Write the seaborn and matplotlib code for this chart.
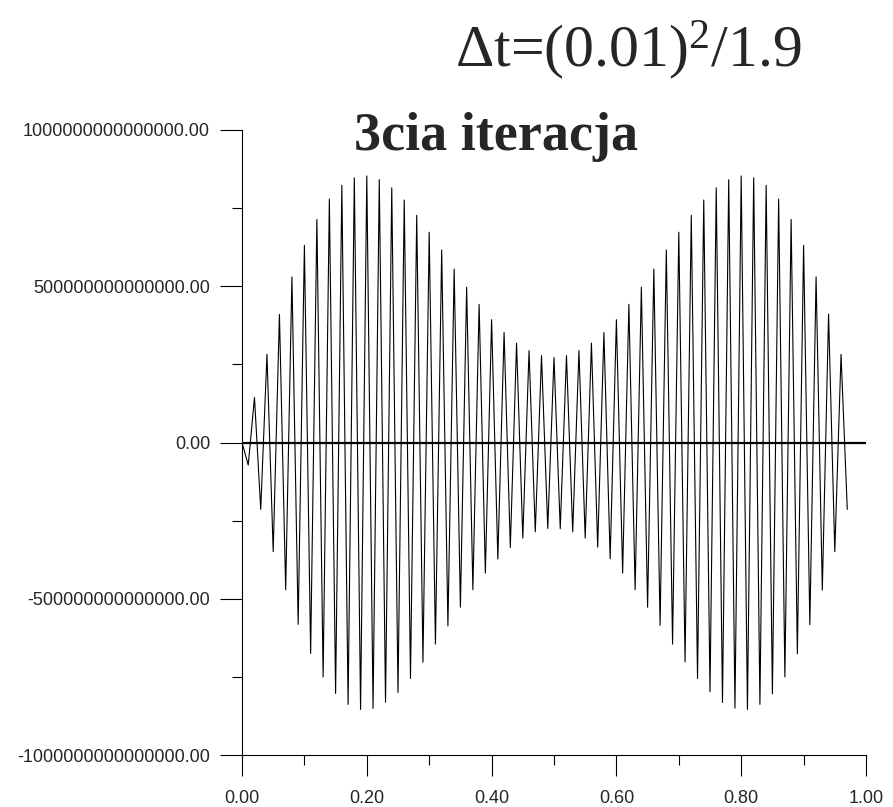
import numpy as np
import pandas as pd
import matplotlib
matplotlib.use("Agg")
import matplotlib.pyplot as plt
from matplotlib.ticker import FixedLocator, FuncFormatter
import seaborn as sns

# ---- data (values in units of 1e14) ----
x_values = np.round(np.arange(0, 0.98, 0.01), 2)
u_values_e14 = [
    0.00, -0.72, 1.44, -2.14, 2.82, -3.49, 4.10, -4.71, 5.30, -5.82,
    6.31, -6.75, 7.14, -7.50, 7.79, -8.03, 8.23, -8.38, 8.47, -8.54,
    8.53, -8.51, 8.41, -8.31, 8.15, -8.00, 7.76, -7.55, 7.27, -7.03,
    6.73, -6.45, 6.16, -5.87, 5.55, -5.27, 4.97, -4.71, 4.42, -4.18,
    3.93, -3.73, 3.52, -3.36, 3.18, -3.06, 2.94, -2.86, 2.78, -2.75,
    2.72, -2.76, 2.78, -2.86, 2.94, -3.06, 3.18, -3.35, 3.52, -3.72,
    3.93, -4.18, 4.42, -4.71, 4.97, -5.27, 5.55, -5.85, 6.16, -6.45,
    6.73, -7.02, 7.27, -7.55, 7.76, -7.98, 8.15, -8.32, 8.41, -8.50,
    8.53, -8.54, 8.47, -8.38, 8.23, -8.04, 7.79, -7.50, 7.14, -6.76,
    6.31, -5.83, 5.30, -4.72, 4.11, -3.49, 2.82, -2.14,
]
x_major_ticks = [0.0, 0.2, 0.4, 0.6, 0.8, 1.0]
x_minor_ticks = [0.1, 0.3, 0.5, 0.7, 0.9]
y_major_ticks = [-1e15, -5e14, 0.0, 5e14, 1e15]
y_minor_ticks = [-7.5e14, -2.5e14, 2.5e14, 7.5e14]
title_text = "3cia iteracja"
subtitle_text = r"$\Delta$t=(0.01)$^{2}$/1.9"

df = pd.DataFrame({"x": x_values, "u": np.array(u_values_e14) * 1e14})

sns.set_theme(style="white")
plt.rcParams["font.family"] = ["Liberation Sans", "DejaVu Sans"]
plt.rcParams["mathtext.fontset"] = "custom"
plt.rcParams["mathtext.rm"] = "Liberation Serif"
plt.rcParams["mathtext.it"] = "Liberation Serif"
plt.rcParams["mathtext.default"] = "rm"

fig = plt.figure(figsize=(8.93, 8.07), dpi=100)
ax = fig.add_axes([242 / 893, 52 / 807, 624 / 893, 625 / 807])

ax.axhline(0, xmin=0, xmax=1, color="black", lw=1.6, zorder=1)
sns.lineplot(data=df, x="x", y="u", ax=ax, color="black", lw=0.8, zorder=2)

ax.set_xlim(0, 1)
ax.set_ylim(-1e15, 1e15)
ax.set_xlabel("")
ax.set_ylabel("")

ax.xaxis.set_major_locator(FixedLocator(x_major_ticks))
ax.xaxis.set_minor_locator(FixedLocator(x_minor_ticks))
ax.yaxis.set_major_locator(FixedLocator(y_major_ticks))
ax.yaxis.set_minor_locator(FixedLocator(y_minor_ticks))
ax.xaxis.set_major_formatter(FuncFormatter(lambda v, p: f"{v:.2f}"))
ax.yaxis.set_major_formatter(FuncFormatter(lambda v, p: f"{v:.2f}"))

for s in ["top", "right"]:
    ax.spines[s].set_visible(False)
for s in ["left", "bottom"]:
    ax.spines[s].set_color("black")
    ax.spines[s].set_linewidth(0.8)

ax.tick_params(axis="x", which="major", direction="out", length=15, width=0.8,
               color="black", labelsize=13, pad=10, bottom=True)
ax.tick_params(axis="x", which="minor", direction="out", length=7.5, width=0.8,
               color="black", bottom=True)
ax.tick_params(axis="y", which="major", direction="out", length=16, width=0.8,
               color="black", labelsize=13, pad=7, left=True)
ax.tick_params(axis="y", which="minor", direction="out", length=7.5, width=0.8,
               color="black", left=True)

fig.text(496 / 893, (807 - 150) / 807, title_text, ha="center", va="baseline",
         fontsize=39, fontweight="bold", family=["Liberation Serif", "DejaVu Serif"])
fig.text(455 / 893, (807 - 67) / 807, subtitle_text, ha="left", va="baseline",
         fontsize=43, family=["Liberation Serif", "DejaVu Serif"])

fig.savefig("out.png", dpi=100, facecolor="white")
